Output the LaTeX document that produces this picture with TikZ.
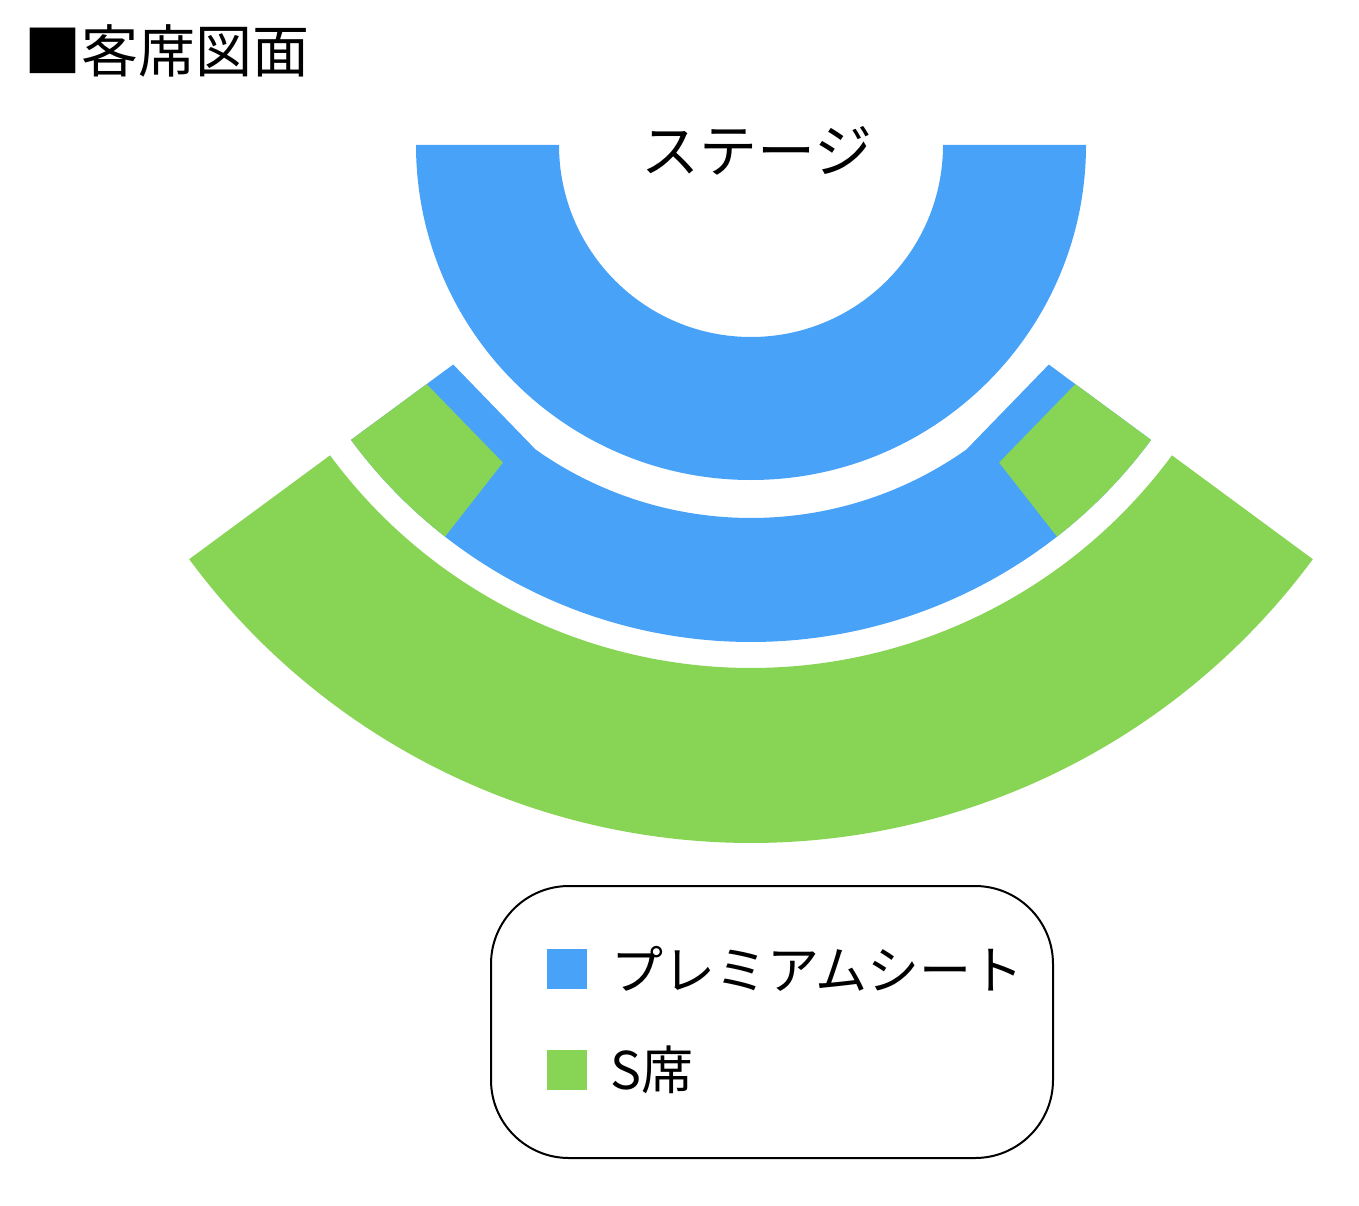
\documentclass[tikz,border=0pt]{standalone}
\usepackage{fontspec}
\newfontfamily\jp{Noto Sans CJK JP}
\usetikzlibrary{calc}
\definecolor{seatblue}{HTML}{48A2F8}
\definecolor{seatgreen}{HTML}{88D455}
\tikzset{
  lbl/.style={inner sep=0pt, font=\jp\fontsize{52}{52}\selectfont},
  keybox/.style={inner sep=0pt, minimum size=40pt},
}
\begin{document}
\begin{tikzpicture}[x=1pt,y=1pt]
\useasboundingbox (0,0) rectangle (1359,-1206);
\coordinate (C) at (751,-145);
% top premium arc
\fill[seatblue] ($(C)+(180:335pt)$) arc[start angle=180,end angle=360,radius=335pt]
  -- ($(C)+(0:192pt)$) arc[start angle=360,end angle=180,radius=192pt] -- cycle;
% middle premium band
\fill[seatblue] ($(C)+(216.4:497pt)$) arc[start angle=216.4,end angle=323.6,radius=497pt]
  -- ($(C)+(323.6:370pt)$) -- ($(C)+(305.3:373pt)$)
  arc[start angle=305.3,end angle=234.7,radius=373pt]
  -- ($(C)+(216.4:370pt)$) -- cycle;
% green corners
\fill[seatgreen] ($(C)+(216.4:403pt)$) -- ($(C)+(216.4:497pt)$)
  arc[start angle=216.4,end angle=232,radius=497pt] -- ($(C)+(232:403pt)$) -- cycle;
\fill[seatgreen] ($(C)+(323.6:403pt)$) -- ($(C)+(323.6:497pt)$)
  arc[start angle=323.6,end angle=308,radius=497pt] -- ($(C)+(308:403pt)$) -- cycle;
% outer S band
\fill[seatgreen] ($(C)+(216.4:698pt)$) arc[start angle=216.4,end angle=323.6,radius=698pt]
  -- ($(C)+(323.6:523pt)$) arc[start angle=323.6,end angle=216.4,radius=523pt] -- cycle;
% texts
\node[anchor=west, inner sep=0pt, font=\jp\fontsize{57}{57}\selectfont] (title) at (24,-51) {■客席図面};
\node[inner sep=0pt, font=\jp\fontsize{58}{58}\selectfont] (stage) at (757,-151) {ステージ};
% legend
\node[draw, line width=2pt, rounded corners=78pt, minimum width=562pt, minimum height=272pt] (legend) at (772,-1022) {};
\node[keybox, fill=seatblue] (kblue) at (567,-969) {};
\node[keybox, fill=seatgreen] (kgreen) at (567,-1070) {};
\node[lbl, anchor=west] (tblue) at (611,-969) {プレミアムシート};
\node[lbl, anchor=west] (tgreen) at (610,-1070) {S席};
\end{tikzpicture}
\end{document}
